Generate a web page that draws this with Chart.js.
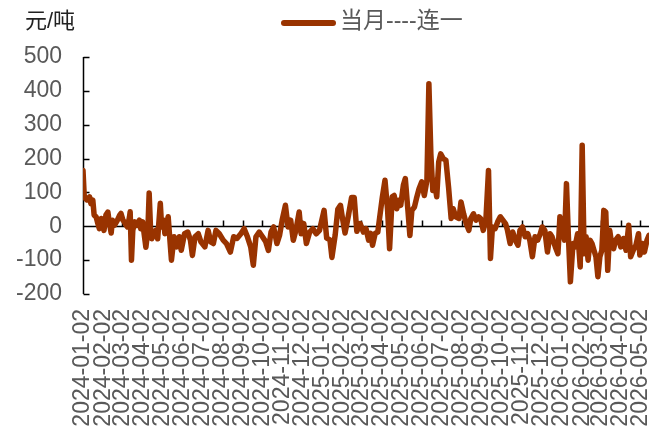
<!DOCTYPE html>
<html>
<head>
<meta charset="utf-8">
<title>当月----连一</title>
<script src="https://cdn.jsdelivr.net/npm/chart.js@4/dist/chart.umd.min.js"></script>
<style>
  html, body { margin: 0; padding: 0; background: #ffffff; }
  #wrap { width: 666px; height: 432px; }
</style>
</head>
<body>
<div id="wrap"><canvas id="c" width="666" height="432"></canvas></div>
<script>
// Month tick labels on the date axis
const tickLabels = [
  '2024-01-02','2024-02-02','2024-03-02','2024-04-02','2024-05-02','2024-06-02',
  '2024-07-02','2024-08-02','2024-09-02','2024-10-02','2024-11-02','2024-12-02',
  '2025-01-02','2025-02-02','2025-03-02','2025-04-02','2025-05-02','2025-06-02',
  '2025-07-02','2025-08-02','2025-09-02','2025-10-02','2025-11-02','2025-12-02',
  '2026-01-02','2026-02-02','2026-03-02','2026-04-02','2026-05-02'
];

// Observation dates (one line per month)
const dates = [
  '2024-01-02','2024-01-04','2024-01-08','2024-01-12','2024-01-14','2024-01-17','2024-01-19','2024-01-22','2024-01-24','2024-01-27','2024-01-30',
  '2024-02-03','2024-02-06','2024-02-09','2024-02-11','2024-02-14','2024-02-16','2024-02-19','2024-02-23','2024-02-27','2024-02-29',
  '2024-03-03','2024-03-05','2024-03-08','2024-03-10','2024-03-13','2024-03-14','2024-03-16','2024-03-18','2024-03-21','2024-03-24','2024-03-28','2024-03-30',
  '2024-04-02','2024-04-05','2024-04-07','2024-04-10','2024-04-12','2024-04-14','2024-04-16','2024-04-19','2024-04-22','2024-04-25','2024-04-29',
  '2024-05-01','2024-05-04','2024-05-06','2024-05-11','2024-05-16','2024-05-20','2024-05-24','2024-05-28','2024-05-31',
  '2024-06-05','2024-06-10','2024-06-14','2024-06-17','2024-06-21','2024-06-26','2024-06-30',
  '2024-07-06','2024-07-11','2024-07-15','2024-07-19','2024-07-23','2024-07-28',
  '2024-08-03','2024-08-08','2024-08-14','2024-08-19','2024-08-24','2024-08-30',
  '2024-09-04','2024-09-09','2024-09-14','2024-09-18','2024-09-22','2024-09-27',
  '2024-10-02','2024-10-07','2024-10-11','2024-10-15','2024-10-19','2024-10-24','2024-10-28',
  '2024-11-01','2024-11-06','2024-11-10','2024-11-14','2024-11-18','2024-11-22','2024-11-27','2024-11-30',
  '2024-12-04','2024-12-08','2024-12-13','2024-12-18','2024-12-23','2024-12-28',
  '2025-01-04','2025-01-08','2025-01-13','2025-01-16','2025-01-21','2025-01-25','2025-01-29',
  '2025-02-01','2025-02-05','2025-02-10','2025-02-15','2025-02-19','2025-02-23','2025-02-28',
  '2025-03-05','2025-03-09','2025-03-13','2025-03-16','2025-03-19','2025-03-23','2025-03-27','2025-03-30',
  '2025-04-03','2025-04-07','2025-04-11','2025-04-14','2025-04-18','2025-04-21','2025-04-25','2025-04-28',
  '2025-05-01','2025-05-05','2025-05-08','2025-05-12','2025-05-15','2025-05-18','2025-05-22','2025-05-25','2025-05-29',
  '2025-06-02','2025-06-06','2025-06-10','2025-06-13','2025-06-16','2025-06-19','2025-06-21','2025-06-25','2025-06-28',
  '2025-07-01','2025-07-05','2025-07-09','2025-07-13','2025-07-17','2025-07-20','2025-07-24','2025-07-29',
  '2025-08-01','2025-08-05','2025-08-09','2025-08-13','2025-08-16','2025-08-20','2025-08-24','2025-08-28','2025-08-31',
  '2025-09-04','2025-09-08','2025-09-12','2025-09-15','2025-09-18','2025-09-22','2025-09-26','2025-09-30',
  '2025-10-04','2025-10-08','2025-10-11','2025-10-15','2025-10-19','2025-10-23','2025-10-27','2025-10-30',
  '2025-11-03','2025-11-07','2025-11-11','2025-11-14','2025-11-18','2025-11-22','2025-11-26','2025-11-30',
  '2025-12-03','2025-12-07','2025-12-11','2025-12-15','2025-12-18','2025-12-23','2025-12-27','2025-12-30',
  '2026-01-03','2026-01-06','2026-01-09','2026-01-12','2026-01-15','2026-01-19','2026-01-22','2026-01-26','2026-01-28','2026-01-30',
  '2026-02-02','2026-02-05','2026-02-08','2026-02-11','2026-02-14','2026-02-17','2026-02-20','2026-02-23','2026-02-26',
  '2026-03-01','2026-03-04','2026-03-07','2026-03-10','2026-03-13','2026-03-16','2026-03-19','2026-03-22','2026-03-25','2026-03-29',
  '2026-04-02','2026-04-06','2026-04-10','2026-04-14','2026-04-17','2026-04-21','2026-04-25','2026-04-29',
  '2026-05-01','2026-05-05','2026-05-08','2026-05-12','2026-05-15'
];

// 当月----连一 spread, 元/吨 (same month grouping as the dates)
const spread = [
  165, 85, 78, 87, 67, 77, 33, 28, 13, -7, 23,
  -12, 33, 42, 13, -20, 18, 3, 16, 33, 38,
  18, 13, 3, -2, 28, 43, -100, -12, 13, 3, 18, -7,
  13, -32, -62, -12, 98, -2, -37, -22, -12, -37, 68,
  -2, 18, -22, 28, -100, -31, -61, -31, -71,
  -22, -17, -41, -86, -31, -22, -46,
  -61, -12, -46, -51, -12, -22,
  -41, -51, -76, -31, -36, -22,
  -7, -31, -61, -115, -31, -17,
  -31, -46, -71, -17, -2, -51, -27,
  18, 62, -2, 18, -41, -12, 42, -22,
  8, -51, -17, -7, -22, -12,
  47, -35, -40, -92, -25, 50, 62,
  25, -20, 30, 85, 85, -15, 8,
  -17, -7, -41, -21, -56, -21, -17, 28,
  87, 136, 47, -66, 87, 91, 52, 77,
  62, 121, 141, 47, -27, 47, 57, 82, 111,
  131, 91, 136, 421, 214, 106, 136, 87, 190,
  214, 200, 195, 116, 23, 52, 28, 23,
  72, 37, 8, -12, 23, 37, 18, 28, 23,
  -12, 18, 165, -95, -2, -7, 13, 28,
  18, 8, -12, -51, -17, -41, -56, -12,
  -2, -31, -22, -41, -90, -31, -41, -22,
  -2, -12, -76, -22, -31, -61, -81, 28,
  -12, -41, 126, -31, -164, -51, -61, -22, -66, -120,
  239, -81, -31, -100, -41, -51, -71, -90, -149,
  -90, -71, 47, 42, -130, -12, -51, -66, -41, -31,
  -61, -36, -71, 3, -90, -71, -56, -22,
  -85, -51, -76, -41, -27
];

const yTicks = [-200, -100, 0, 100, 200, 300, 400, 500];
const unitLabel = '元/吨';
const seriesName = '当月----连一';

const LINE_COLOR = '#993300';
const TEXT_GREY = '#595959';
const FONT_FAMILY = '"Liberation Sans", Arial, "Noto Sans CJK SC", sans-serif';

function dayNum(s) {
  const p = s.split('-').map(Number);
  return Date.UTC(p[0], p[1] - 1, p[2]) / 86400000;
}

const points = dates.map((d, i) => ({ x: dayNum(d), y: spread[i] }));

// Axis lines, inside tick marks, zero baseline, legend and unit caption
const decorations = {
  id: 'decorations',
  beforeDatasetsDraw(chart) {
    const { ctx, chartArea, scales } = chart;
    const xs = scales.x, ys = scales.y;
    const left = Math.round(chartArea.left) + 0.5;
    const y0 = Math.round(ys.getPixelForValue(0)) + 0.5;
    ctx.save();
    ctx.strokeStyle = '#000000';
    ctx.lineWidth = 1.5;
    ctx.beginPath();
    ctx.moveTo(left, ys.getPixelForValue(yTicks[yTicks.length - 1]));
    ctx.lineTo(left, ys.getPixelForValue(yTicks[0]));
    yTicks.forEach(v => {
      const py = Math.round(ys.getPixelForValue(v)) + 0.5;
      ctx.moveTo(left, py);
      ctx.lineTo(left + 6, py);
    });
    ctx.moveTo(left, y0);
    ctx.lineTo(chartArea.right, y0);
    tickLabels.forEach(t => {
      const px = Math.round(xs.getPixelForValue(dayNum(t))) + 0.5;
      ctx.moveTo(px, y0);
      ctx.lineTo(px, y0 - 6);
    });
    ctx.stroke();
    ctx.restore();
  },
  afterDraw(chart) {
    const { ctx } = chart;
    ctx.save();
    // unit caption
    ctx.fillStyle = '#222222';
    ctx.font = '22px ' + FONT_FAMILY;
    ctx.textBaseline = 'middle';
    ctx.textAlign = 'left';
    ctx.fillText(unitLabel, 25, 22);
    // legend
    ctx.strokeStyle = LINE_COLOR;
    ctx.lineWidth = 6;
    ctx.lineCap = 'round';
    ctx.beginPath();
    ctx.moveTo(284, 23);
    ctx.lineTo(333, 23);
    ctx.stroke();
    ctx.fillStyle = TEXT_GREY;
    ctx.font = '23px ' + FONT_FAMILY;
    ctx.fillText(chart.data.datasets[0].label, 340, 22);
    ctx.restore();
  }
};

new Chart(document.getElementById('c'), {
  type: 'line',
  data: {
    datasets: [{
      label: seriesName,
      data: points,
      borderColor: LINE_COLOR,
      backgroundColor: LINE_COLOR,
      borderWidth: 5.5,
      pointRadius: 0,
      tension: 0,
      fill: false,
      borderJoinStyle: 'round',
      borderCapStyle: 'round'
    }]
  },
  options: {
    responsive: false,
    animation: false,
    devicePixelRatio: 1,
    layout: { padding: { left: 0, top: 57, right: 17, bottom: 0 } },
    plugins: {
      legend: { display: false },
      tooltip: { enabled: false }
    },
    scales: {
      x: {
        type: 'linear',
        min: dayNum(dates[0]),
        max: dayNum(dates[dates.length - 1]),
        afterBuildTicks(scale) {
          scale.ticks = tickLabels.map(t => ({ value: dayNum(t) }));
        },
        afterFit(scale) {
          scale.height = 138;
          scale.paddingLeft = 0;
          scale.paddingRight = 0;
        },
        grid: { display: false, drawTicks: false },
        border: { display: false },
        ticks: {
          autoSkip: false,
          minRotation: 90,
          maxRotation: 90,
          padding: 15,
          color: TEXT_GREY,
          font: { size: 23, family: FONT_FAMILY },
          callback: (v, i) => tickLabels[i]
        }
      },
      y: {
        type: 'linear',
        min: -200,
        max: 500,
        afterBuildTicks(scale) {
          scale.ticks = yTicks.map(v => ({ value: v }));
        },
        afterFit(scale) {
          scale.width = 83;
          scale.paddingTop = 0;
          scale.paddingBottom = 0;
        },
        grid: { display: false, drawTicks: false },
        border: { display: false },
        ticks: {
          padding: 21,
          color: TEXT_GREY,
          font: { size: 23, family: FONT_FAMILY }
        }
      }
    }
  },
  plugins: [decorations]
});
</script>
</body>
</html>
